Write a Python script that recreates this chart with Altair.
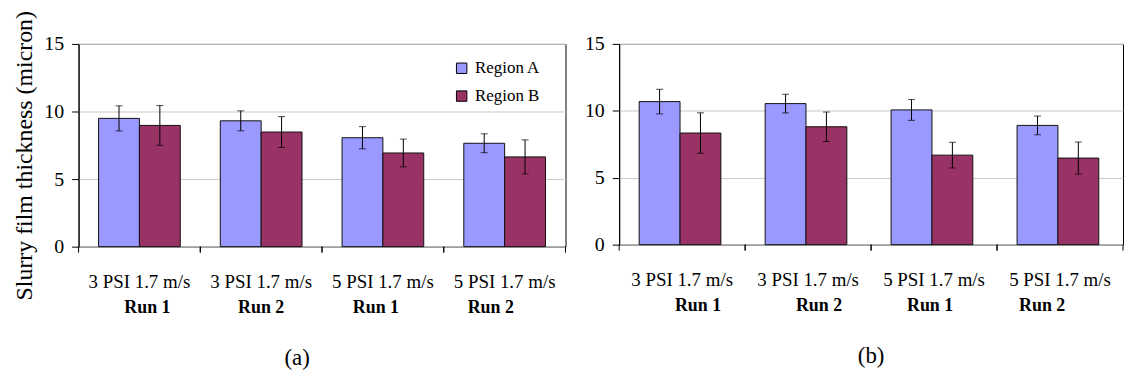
import altair as alt
import pandas as pd

# ---------------- data ----------------
categories = ["3 PSI 1.7 m/s Run 1", "3 PSI 1.7 m/s Run 2", "5 PSI 1.7 m/s Run 1", "5 PSI 1.7 m/s Run 2"]
label_line1 = ["3 PSI 1.7 m/s", "3 PSI 1.7 m/s", "5 PSI 1.7 m/s", "5 PSI 1.7 m/s"]
label_line2 = ["Run 1", "Run 2", "Run 1", "Run 2"]
regions = ["Region A", "Region B"]

# panel (a)
a_region_a = [9.49, 9.31, 8.06, 7.65]
a_region_a_err = [0.93, 0.74, 0.82, 0.70]
a_region_b = [8.97, 8.48, 6.93, 6.64]
a_region_b_err = [1.47, 1.14, 1.03, 1.26]

# panel (b)
b_region_a = [10.69, 10.54, 10.07, 8.91]
b_region_a_err = [0.92, 0.70, 0.78, 0.70]
b_region_b = [8.34, 8.81, 6.69, 6.47]
b_region_b_err = [1.51, 1.10, 0.96, 1.20]

y_ticks = [0, 5, 10, 15]

# ---------------- style ----------------
FONT = "Liberation Serif"
COLORS = ["#9999FF", "#993366"]
run_label_nudge_a = [8, 0, -7, -14]
run_label_nudge_b = [16, 11, -4, -18]


def make_df(va, ea, vb, eb):
    rows = []
    for i, c in enumerate(categories):
        for r, v, e in ((regions[0], va[i], ea[i]), (regions[1], vb[i], eb[i])):
            rows.append({"cat": c, "region": r, "value": v, "lo": v - e, "hi": v + e})
    return pd.DataFrame(rows)


cat_df = pd.DataFrame({"cat": categories, "line1": label_line1, "line2": label_line2})


def panel(va, ea, vb, eb, w, h, title, nudges, lx, ly, caption, cap_dx):
    df = make_df(va, ea, vb, eb)
    xscale = alt.Scale(domain=categories, paddingInner=0, paddingOuter=0)
    x = alt.X("cat:N", scale=xscale, axis=None)
    xo = alt.XOffset("region:N", scale=alt.Scale(domain=regions, paddingInner=0, paddingOuter=0.49))
    yaxis = alt.Axis(values=y_ticks, title=title, grid=True, gridColor="#c8c8c8",
                     domainColor="black", tickColor="black", tickSize=7,
                     labelFont=FONT, labelFontSize=20, labelColor="black", labelPadding=8,
                     titleFont=FONT, titleFontSize=24, titleFontWeight="normal",
                     titleColor="black", titlePadding=7, titleY=112)
    yscale = alt.Scale(domain=[0, 15], nice=False)

    base = alt.Chart(df)
    bars = base.mark_bar(stroke="#111111", strokeWidth=1).encode(
        x=x, xOffset=xo,
        y=alt.Y("value:Q", scale=yscale, axis=yaxis),
        color=alt.Color("region:N", scale=alt.Scale(domain=regions, range=COLORS),
                        legend=alt.Legend(title=None, orient="none", legendX=lx, legendY=ly,
                                          symbolType="square", symbolSize=110,
                                          symbolStrokeColor="black", symbolStrokeWidth=1,
                                          labelFont=FONT, labelFontSize=17, labelColor="black",
                                          rowPadding=10, padding=0, labelOffset=5)),
    )
    err = base.mark_rule(color="black", strokeWidth=1).encode(
        x=x, xOffset=xo,
        y=alt.Y("lo:Q", scale=yscale, axis=yaxis), y2="hi:Q")
    cap_lo = base.mark_tick(color="black", thickness=1, size=7).encode(
        x=x, xOffset=xo, y=alt.Y("lo:Q", scale=yscale, axis=yaxis))
    cap_hi = base.mark_tick(color="black", thickness=1, size=7).encode(
        x=x, xOffset=xo, y=alt.Y("hi:Q", scale=yscale, axis=yaxis))

    cbase = alt.Chart(cat_df)
    t0 = cbase.mark_rule(color="black", strokeWidth=1).encode(
        x=alt.X("cat:N", scale=xscale, axis=None, bandPosition=0),
        y=alt.value(h), y2=alt.value(h + 6))
    t1 = cbase.mark_rule(color="black", strokeWidth=1).encode(
        x=alt.X("cat:N", scale=xscale, axis=None, bandPosition=1),
        y=alt.value(h), y2=alt.value(h + 6))

    lab1 = cbase.mark_text(font=FONT, fontSize=19, baseline="alphabetic", color="black").encode(
        x=alt.X("cat:N", scale=xscale, axis=None), y=alt.value(h + 42), text="line1:N")
    layers = [bars, err, cap_lo, cap_hi, t0, t1, lab1]
    for i in range(len(categories)):
        sub = cat_df.iloc[i:i + 1]
        layers.append(alt.Chart(sub).mark_text(font=FONT, fontSize=18, fontWeight="bold",
                                              baseline="alphabetic", color="black", dx=nudges[i]).encode(
            x=alt.X("cat:N", scale=xscale, axis=None), y=alt.value(h + 67), text="line2:N"))

    return alt.layer(*layers).properties(
        width=w, height=h,
        title=alt.TitleParams(caption, orient="bottom", anchor="middle", font=FONT, fontSize=23,
                              fontWeight="normal", color="black", offset=30, dx=cap_dx),
    )


pa = panel(a_region_a, a_region_a_err, a_region_b, a_region_b_err, 490, 204,
           "Slurry film thickness (micron)", run_label_nudge_a, 377, 16, "(a)", -25)
pb = panel(b_region_a, b_region_a_err, b_region_b, b_region_b_err, 507, 202,
           None, run_label_nudge_b, 388, 14, "(b)", 0)

chart = alt.hconcat(pa, pb, spacing=54, bounds="flush").properties(
    padding={"left": 4, "top": 0, "right": 0, "bottom": 0}
).configure_view(stroke="black", strokeWidth=1).configure_axis(gridWidth=1)

chart.save("out.html", embed_options={"renderer": "svg", "actions": False})
